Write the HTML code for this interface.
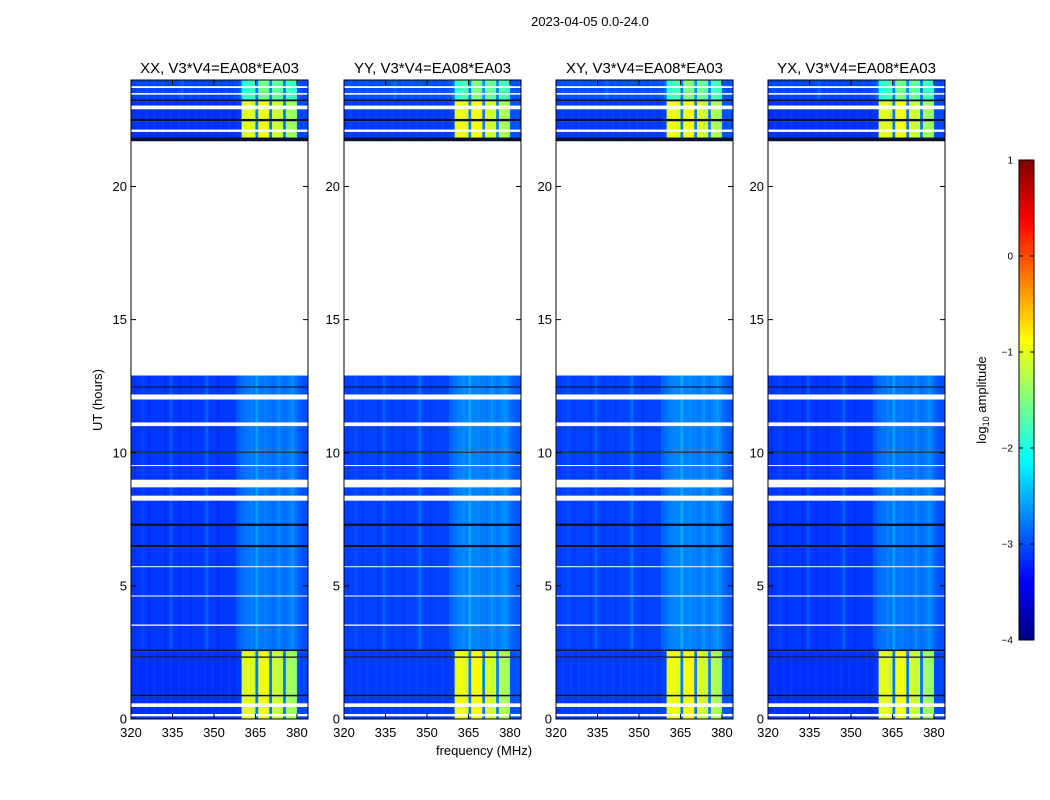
<!DOCTYPE html>
<html><head><meta charset="utf-8">
<style>
html,body{margin:0;padding:0;background:#fff;}
svg{display:block;font-family:"Liberation Sans",sans-serif;}
</style></head>
<body>
<svg id="chart" width="1050" height="800" viewBox="0 0 1050 800" xmlns="http://www.w3.org/2000/svg">
<text x="590" y="26" font-size="13" text-anchor="middle">2023-04-05 0.0-24.0</text>
<text x="484" y="755" font-size="13" text-anchor="middle">frequency (MHz)</text>
<text x="102" y="400" font-size="13" text-anchor="middle" transform="rotate(-90 102 400)">UT (hours)</text>
<g id="panels"></g>
<g id="cbar"></g>
</svg>
<script>
// ---- data ----
const panelTitles = ["XX, V3*V4=EA08*EA03","YY, V3*V4=EA08*EA03","XY, V3*V4=EA08*EA03","YX, V3*V4=EA08*EA03"];
const xTicks = [320,335,350,365,380];
const yTicks = [0,5,10,15,20];
const cbarTicks = [1,0,-1,-2,-3,-4];
// kind: r=rfi-on, q=quiet, w=no data, k=flagged dark, t=top rfi
const segStart = [0,0.1,0.2,0.45,0.6,0.85,0.92,2.3,2.36,2.55,2.62,3.5,3.56,4.6,4.65,5.7,5.75,6.45,6.55,7.25,7.35,8.2,8.4,8.7,9.0,9.5,9.55,10.0,10.05,11.0,11.15,12.0,12.2,12.45,12.5,12.9,21.7,21.85,22.05,22.15,22.45,22.55,22.9,23.05,23.2,23.28,23.45,23.52,23.7,23.78];
const segEnd   = [0.1,0.2,0.45,0.6,0.85,0.92,2.3,2.36,2.55,2.62,3.5,3.56,4.6,4.65,5.7,5.75,6.45,6.55,7.25,7.35,8.2,8.4,8.7,9.0,9.5,9.55,10.0,10.05,11.0,11.15,12.0,12.2,12.45,12.5,12.9,21.7,21.85,22.05,22.15,22.45,22.55,22.9,23.05,23.2,23.28,23.45,23.52,23.7,23.78,24];
const segKind  = ["r","w","r","w","r","k","r","k","r","k","q","w","q","w","q","w","q","k","q","k","q","w","q","w","q","w","q","k","q","w","q","w","q","k","q","w","k","r","w","r","k","r","w","r","k","t","w","t","w","t"];
// 1-MHz channels starting at 320
const quietLevel = [
-3.1,-3.15,-3.1,-3.1,-3.05,-3.1,-3.15,-3.1,-3.1,-3.1,
-3.1,-3.1,-3.15,-3.1,-2.95,-3.1,-3.1,-3.15,-3.1,-3.1,
-3.1,-3.15,-3.1,-3.1,-3.1,-3.1,-3.05,-2.9,-3.1,-3.1,
-3.1,-3.15,-3.1,-3.1,-3.1,-3.1,-3.1,-3.1,-2.95,-2.9,
-2.85,-2.8,-2.8,-2.75,-2.8,-2.6,-2.8,-2.8,-2.75,-2.8,
-2.8,-2.85,-2.8,-2.7,-2.8,-2.85,-2.8,-2.75,-2.7,-2.8,
-2.9,-2.95,-3.0,-3.0];
const rfiLevel = [
-3.15,-3.15,-3.1,-3.15,-3.15,-3.1,-3.15,-3.15,-3.1,-3.15,
-3.15,-3.1,-3.15,-3.15,-3.1,-3.15,-3.15,-3.1,-3.15,-3.15,
-3.1,-3.15,-3.15,-3.1,-3.15,-3.15,-3.1,-3.15,-3.15,-3.1,
-3.15,-3.15,-3.1,-3.15,-3.15,-3.1,-3.15,-3.15,-3.1,-3.1,
-1.05,-1.0,-1.0,-1.05,-1.1,-2.8,-0.95,-0.95,-0.9,-1.0,
-2.8,-1.1,-1.1,-1.2,-1.15,-2.8,-1.3,-1.3,-1.35,-1.4,
-3.0,-3.05,-3.0,-3.05];
const topLevel = [
-3.05,-3.05,-3.0,-3.05,-3.05,-3.0,-3.05,-3.05,-3.0,-3.05,
-3.05,-3.0,-3.05,-3.05,-3.0,-3.05,-3.05,-3.0,-2.9,-3.05,
-3.05,-3.0,-3.05,-3.05,-3.0,-3.05,-3.05,-3.0,-3.05,-3.05,
-3.05,-3.0,-3.05,-3.05,-3.0,-3.05,-3.05,-3.0,-3.0,-2.9,
-2.0,-1.9,-1.85,-1.8,-1.8,-2.8,-1.6,-1.5,-1.55,-1.6,
-2.7,-1.65,-1.6,-1.7,-1.7,-2.8,-1.8,-1.8,-1.85,-1.9,
-3.0,-3.0,-3.05,-3.0];
const panelOffset = [0,0.05,0.05,0.0];

{
const panelX = [131,344,556,768], panelW = 177, yTop = 80, yBot = 719;
const fMin = 320, fMax = 384, tMin = 0, tMax = 24;
function jet(v){
  let t = Math.max(0,Math.min(1,(v+4)/5));
  const c = x=>Math.round(255*Math.max(0,Math.min(1,x)));
  return `rgb(${c(Math.min(4*t-1.5,-4*t+4.5))},${c(Math.min(4*t-0.5,-4*t+3.5))},${c(Math.min(4*t+0.5,-4*t+2.5))})`;
}
const NS="http://www.w3.org/2000/svg";
function mk(tag,attrs,parent){const e=document.createElementNS(NS,tag);for(const k in attrs)e.setAttribute(k,attrs[k]);parent.appendChild(e);return e;}
const yScale = h => yBot - (h - tMin)/(tMax - tMin)*(yBot-yTop);
const panelsG = document.getElementById('panels');
panelTitles.forEach((title,p)=>{
  const x0 = panelX[p];
  const xScale = f => x0 + (f - fMin)/(fMax - fMin)*panelW;
  const g = mk('g',{},panelsG);
  
  
  segStart.forEach((s,i)=>{
    const kind = segKind[i];
    const y1 = yScale(segEnd[i]), y2 = yScale(s);
    if(kind==='w') return;
    if(kind==='k'){
      const r = mk('rect',{x:x0,y:y1,width:panelW,height:Math.max(1,y2-y1),fill:'#0a1030'},g);
      
      
      return;
    }
    const arr = kind==='r'?rfiLevel:kind==='t'?topLevel:quietLevel;
    arr.forEach((lv,j)=>{
      const xa = xScale(fMin+j), xb = xScale(fMin+j+1);
      const r = mk('rect',{x:xa,y:y1,width:xb-xa+0.3,height:y2-y1+0.3,fill:jet(lv+panelOffset[p])},g);
      
      
    });
  });
  const fr = mk('rect',{x:x0,y:yTop,width:panelW,height:yBot-yTop,fill:'none',stroke:'#000','stroke-width':1},g);
  
  
  const tt = mk('text',{x:x0+panelW/2,y:73,'font-size':15,'text-anchor':'middle'},g);
  tt.textContent = title;
  
  
  xTicks.forEach(v=>{
    const x = xScale(v);
    mk('line',{x1:x,x2:x,y1:yBot,y2:yBot-5,stroke:'#000'},g);
    mk('line',{x1:x,x2:x,y1:yTop,y2:yTop+5,stroke:'#000'},g);
    const t = mk('text',{x:x,y:737,'font-size':13,'text-anchor':'middle'},g);
    t.textContent = v;
    
    
  });
  yTicks.forEach(v=>{
    const y = yScale(v);
    mk('line',{x1:x0,x2:x0+5,y1:y,y2:y,stroke:'#000'},g);
    mk('line',{x1:x0+panelW,x2:x0+panelW-5,y1:y,y2:y,stroke:'#000'},g);
    const t = mk('text',{x:x0-4,y:y+4.5,'font-size':13,'text-anchor':'end'},g);
    t.textContent = v;
    
    
  });
});
const cb = document.getElementById('cbar');
const cbX=1019, cbW=15, cbTop=160, cbBot=640;
const cbY = v => cbBot - (v+4)/5*(cbBot-cbTop);
for(let i=0;i<120;i++){
  const v0 = -4 + 5*i/120, v1 = -4 + 5*(i+1)/120;
  mk('rect',{x:cbX,y:cbY(v1),width:cbW,height:cbY(v0)-cbY(v1)+0.5,fill:jet((v0+v1)/2)},cb);
}
mk('rect',{x:cbX,y:cbTop,width:cbW,height:cbBot-cbTop,fill:'none',stroke:'#000'},cb);
cbarTicks.forEach(v=>{
  const y = cbY(v);
  mk('line',{x1:cbX,x2:cbX+4,y1:y,y2:y,stroke:'#000'},cb);
  mk('line',{x1:cbX+cbW,x2:cbX+cbW-4,y1:y,y2:y,stroke:'#000'},cb);
  const t = mk('text',{x:1013,y:y+3.5,'font-size':10,'text-anchor':'end'},cb);
  t.textContent = v<0 ? '\u2212'+(-v) : v;
  
  
});
const cl = mk('text',{x:986,y:400,'font-size':13,'text-anchor':'middle',transform:'rotate(-90 986 400)'},cb);
cl.innerHTML = 'log<tspan font-size="9" dy="3">10</tspan><tspan dy="-3"> amplitude</tspan>';


}
</script>
</body></html>
